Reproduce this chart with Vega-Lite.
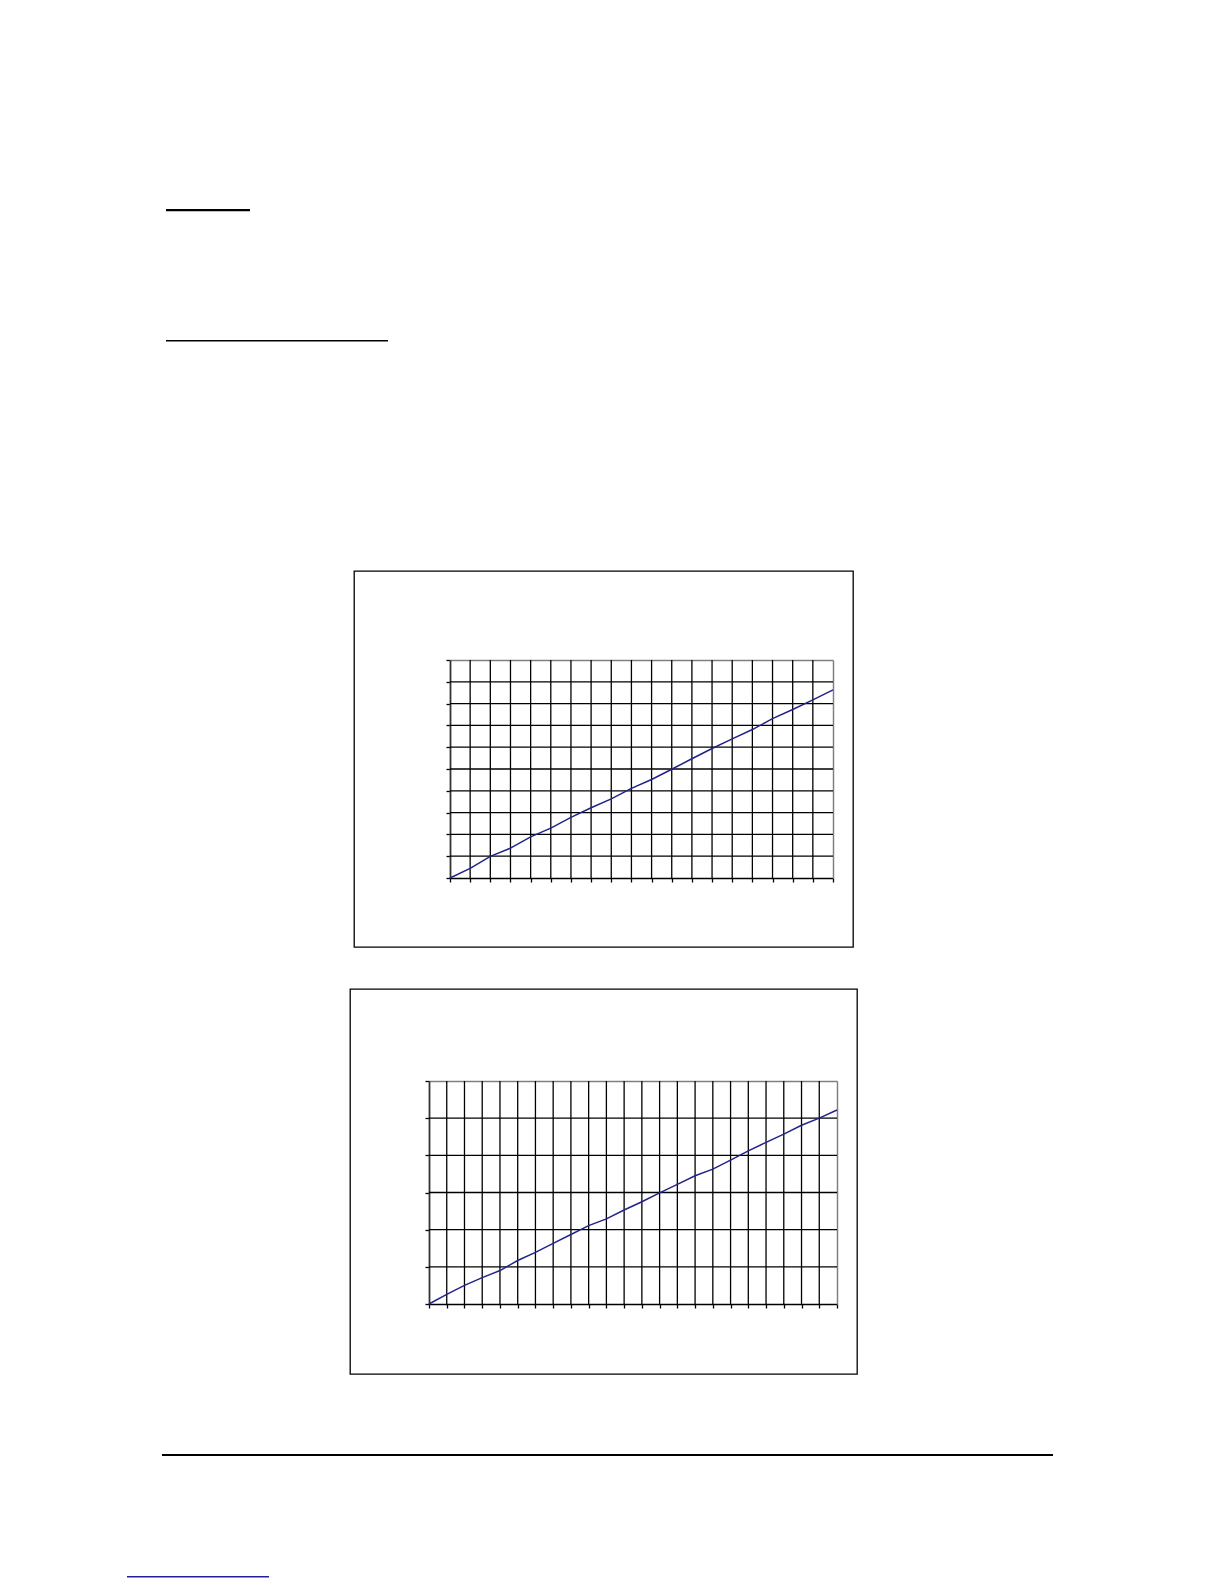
{
  "$schema": "https://vega.github.io/schema/vega-lite/v6.json",
  "background": "white",
  "padding": 0,
  "spacing": 0,
  "bounds": "full",
  "config": {"view": {"stroke": null}, "concat": {"spacing": 0}},
  "vconcat": [
    {"width": 1, "height": 209, "data": {"values": []}, "mark": "point"},
    {
      "spacing": 0, "bounds": "flush",
      "hconcat": [
        {"width": 166, "height": 131, "data": {"values": []}, "mark": "point"},
        {"width": 84, "height": 2.3, "data": {"values": []}, "mark": "point", "view": {"fill": "black", "stroke": null}}
      ]
    },
    {
      "spacing": 0, "bounds": "flush",
      "hconcat": [
        {"width": 166, "height": 230, "data": {"values": []}, "mark": "point"},
        {"width": 222, "height": 1.5, "data": {"values": []}, "mark": "point", "view": {"fill": "black", "stroke": null}}
      ]
    },
    {
      "spacing": 0, "bounds": "flush",
      "hconcat": [
        {"width": 354, "height": 417, "data": {"values": []}, "mark": "point"},
        {
          "width": 499, "height": 376,
          "view": {"stroke": "black", "strokeWidth": 1.3},
          "resolve": {"axis": {"x": "independent", "y": "independent"}},
          "layer": [
            {
              "data": {"values": [{"gx": 1}, {"gx": 2}, {"gx": 3}, {"gx": 4}, {"gx": 5}, {"gx": 6}, {"gx": 7}, {"gx": 8}, {"gx": 9}, {"gx": 10}, {"gx": 11}, {"gx": 12}, {"gx": 13}, {"gx": 14}, {"gx": 15}, {"gx": 16}, {"gx": 17}, {"gx": 18}]},
              "mark": {"type": "rule", "color": "black", "strokeWidth": 1.3},
              "encoding": {
                "x": {"field": "gx", "type": "quantitative",
                  "scale": {"domain": [0, 19], "range": [96, 479], "nice": false, "zero": false},
                  "axis": {"orient": "top", "offset": -89, "labels": false, "ticks": false, "grid": false, "title": null, "domainColor": "#808080", "domainWidth": 1.5}},
                "y": {"datum": 0, "type": "quantitative", "scale": {"domain": [0, 10], "range": [307, 89], "nice": false, "zero": false}, "axis": null},
                "y2": {"datum": 10}
              }
            },
            {
              "data": {"values": [{"gy": 1}, {"gy": 2}, {"gy": 3}, {"gy": 4}, {"gy": 5}, {"gy": 6}, {"gy": 7}, {"gy": 8}, {"gy": 9}]},
              "mark": {"type": "rule", "color": "black", "strokeWidth": 1.3},
              "encoding": {
                "y": {"field": "gy", "type": "quantitative",
                  "scale": {"domain": [0, 10], "range": [307, 89], "nice": false, "zero": false},
                  "axis": {"orient": "right", "offset": -20, "labels": false, "ticks": false, "grid": false, "title": null, "domainColor": "#808080", "domainWidth": 1.5}},
                "x": {"datum": 0, "type": "quantitative", "scale": {"domain": [0, 19], "range": [96, 479], "nice": false, "zero": false}, "axis": null},
                "x2": {"datum": 19}
              }
            },
            {
              "data": {"values": [
                {"t": 0, "v": 0}, {"t": 1, "v": 0.44}, {"t": 2, "v": 0.99}, {"t": 3, "v": 1.37}, {"t": 4, "v": 1.89},
                {"t": 5, "v": 2.29}, {"t": 6, "v": 2.78}, {"t": 7, "v": 3.22}, {"t": 8, "v": 3.63}, {"t": 9, "v": 4.11},
                {"t": 10, "v": 4.52}, {"t": 11, "v": 4.99}, {"t": 12, "v": 5.47}, {"t": 13, "v": 5.94}, {"t": 14, "v": 6.38},
                {"t": 15, "v": 6.81}, {"t": 16, "v": 7.31}, {"t": 17, "v": 7.73}, {"t": 18, "v": 8.17}, {"t": 19, "v": 8.63}
              ]},
              "mark": {"type": "line", "color": "#22228a", "strokeWidth": 1.5},
              "encoding": {
                "x": {"field": "t", "type": "quantitative",
                  "scale": {"domain": [0, 19], "range": [96, 479], "nice": false, "zero": false},
                  "axis": {"orient": "bottom", "offset": -69, "values": [0, 1, 2, 3, 4, 5, 6, 7, 8, 9, 10, 11, 12, 13, 14, 15, 16, 17, 18, 19], "labels": false, "tickSize": 4, "tickColor": "black", "tickWidth": 1.3, "domainColor": "black", "domainWidth": 1.5, "grid": false, "title": null}},
                "y": {"field": "v", "type": "quantitative",
                  "scale": {"domain": [0, 10], "range": [307, 89], "nice": false, "zero": false},
                  "axis": {"orient": "left", "offset": -96, "values": [0, 1, 2, 3, 4, 5, 6, 7, 8, 9, 10], "labels": false, "tickSize": 4, "tickColor": "black", "tickWidth": 1.3, "domainColor": "#333333", "domainWidth": 1.8, "grid": false, "title": null}}
              }
            }
          ]
        }
      ]
    },
    {
      "spacing": 0, "bounds": "flush",
      "hconcat": [
        {"width": 350, "height": 465, "data": {"values": []}, "mark": "point"},
        {
          "width": 507, "height": 385,
          "view": {"stroke": "black", "strokeWidth": 1.3},
          "resolve": {"axis": {"x": "independent", "y": "independent"}},
          "layer": [
            {
              "data": {"values": [{"gx": 1}, {"gx": 2}, {"gx": 3}, {"gx": 4}, {"gx": 5}, {"gx": 6}, {"gx": 7}, {"gx": 8}, {"gx": 9}, {"gx": 10}, {"gx": 11}, {"gx": 12}, {"gx": 13}, {"gx": 14}, {"gx": 15}, {"gx": 16}, {"gx": 17}, {"gx": 18}, {"gx": 19}, {"gx": 20}, {"gx": 21}, {"gx": 22}]},
              "mark": {"type": "rule", "color": "black", "strokeWidth": 1.3},
              "encoding": {
                "x": {"field": "gx", "type": "quantitative",
                  "scale": {"domain": [0, 23], "range": [79, 487], "nice": false, "zero": false},
                  "axis": {"orient": "top", "offset": -92, "labels": false, "ticks": false, "grid": false, "title": null, "domainColor": "#808080", "domainWidth": 1.5}},
                "y": {"datum": 0, "type": "quantitative", "scale": {"domain": [0, 6], "range": [315, 92], "nice": false, "zero": false}, "axis": null},
                "y2": {"datum": 6}
              }
            },
            {
              "data": {"values": [{"gy": 1}, {"gy": 2}, {"gy": 3}, {"gy": 4}, {"gy": 5}]},
              "mark": {"type": "rule", "color": "black", "strokeWidth": 1.3},
              "encoding": {
                "y": {"field": "gy", "type": "quantitative",
                  "scale": {"domain": [0, 6], "range": [315, 92], "nice": false, "zero": false},
                  "axis": {"orient": "right", "offset": -20, "labels": false, "ticks": false, "grid": false, "title": null, "domainColor": "#808080", "domainWidth": 1.5}},
                "x": {"datum": 0, "type": "quantitative", "scale": {"domain": [0, 23], "range": [79, 487], "nice": false, "zero": false}, "axis": null},
                "x2": {"datum": 23}
              }
            },
            {
              "data": {"values": [
                {"t": 0, "v": 0}, {"t": 1, "v": 0.26}, {"t": 2, "v": 0.5}, {"t": 3, "v": 0.71}, {"t": 4, "v": 0.9},
                {"t": 5, "v": 1.17}, {"t": 6, "v": 1.39}, {"t": 7, "v": 1.63}, {"t": 8, "v": 1.87}, {"t": 9, "v": 2.11},
                {"t": 10, "v": 2.29}, {"t": 11, "v": 2.53}, {"t": 12, "v": 2.75}, {"t": 13, "v": 2.99}, {"t": 14, "v": 3.22},
                {"t": 15, "v": 3.45}, {"t": 16, "v": 3.63}, {"t": 17, "v": 3.87}, {"t": 18, "v": 4.12}, {"t": 19, "v": 4.35},
                {"t": 20, "v": 4.57}, {"t": 21, "v": 4.81}, {"t": 22, "v": 5.0}, {"t": 23, "v": 5.22}
              ]},
              "mark": {"type": "line", "color": "#22228a", "strokeWidth": 1.5},
              "encoding": {
                "x": {"field": "t", "type": "quantitative",
                  "scale": {"domain": [0, 23], "range": [79, 487], "nice": false, "zero": false},
                  "axis": {"orient": "bottom", "offset": -70, "values": [0, 1, 2, 3, 4, 5, 6, 7, 8, 9, 10, 11, 12, 13, 14, 15, 16, 17, 18, 19, 20, 21, 22, 23], "labels": false, "tickSize": 4, "tickColor": "black", "tickWidth": 1.3, "domainColor": "black", "domainWidth": 1.5, "grid": false, "title": null}},
                "y": {"field": "v", "type": "quantitative",
                  "scale": {"domain": [0, 6], "range": [315, 92], "nice": false, "zero": false},
                  "axis": {"orient": "left", "offset": -79, "values": [0, 1, 2, 3, 4, 5, 6], "labels": false, "tickSize": 4, "tickColor": "black", "tickWidth": 1.3, "domainColor": "#333333", "domainWidth": 1.8, "grid": false, "title": null}}
              }
            }
          ]
        }
      ]
    },
    {
      "spacing": 0, "bounds": "flush",
      "hconcat": [
        {"width": 162, "height": 122, "data": {"values": []}, "mark": "point"},
        {"width": 891, "height": 2, "data": {"values": []}, "mark": "point", "view": {"fill": "black", "stroke": null}}
      ]
    },
    {
      "spacing": 0, "bounds": "flush",
      "hconcat": [
        {"width": 127, "height": 10, "data": {"values": []}, "mark": "point"},
        {"width": 142, "height": 1.5, "data": {"values": []}, "mark": "point", "view": {"fill": "#20209a", "stroke": null}}
      ]
    }
  ]
}
